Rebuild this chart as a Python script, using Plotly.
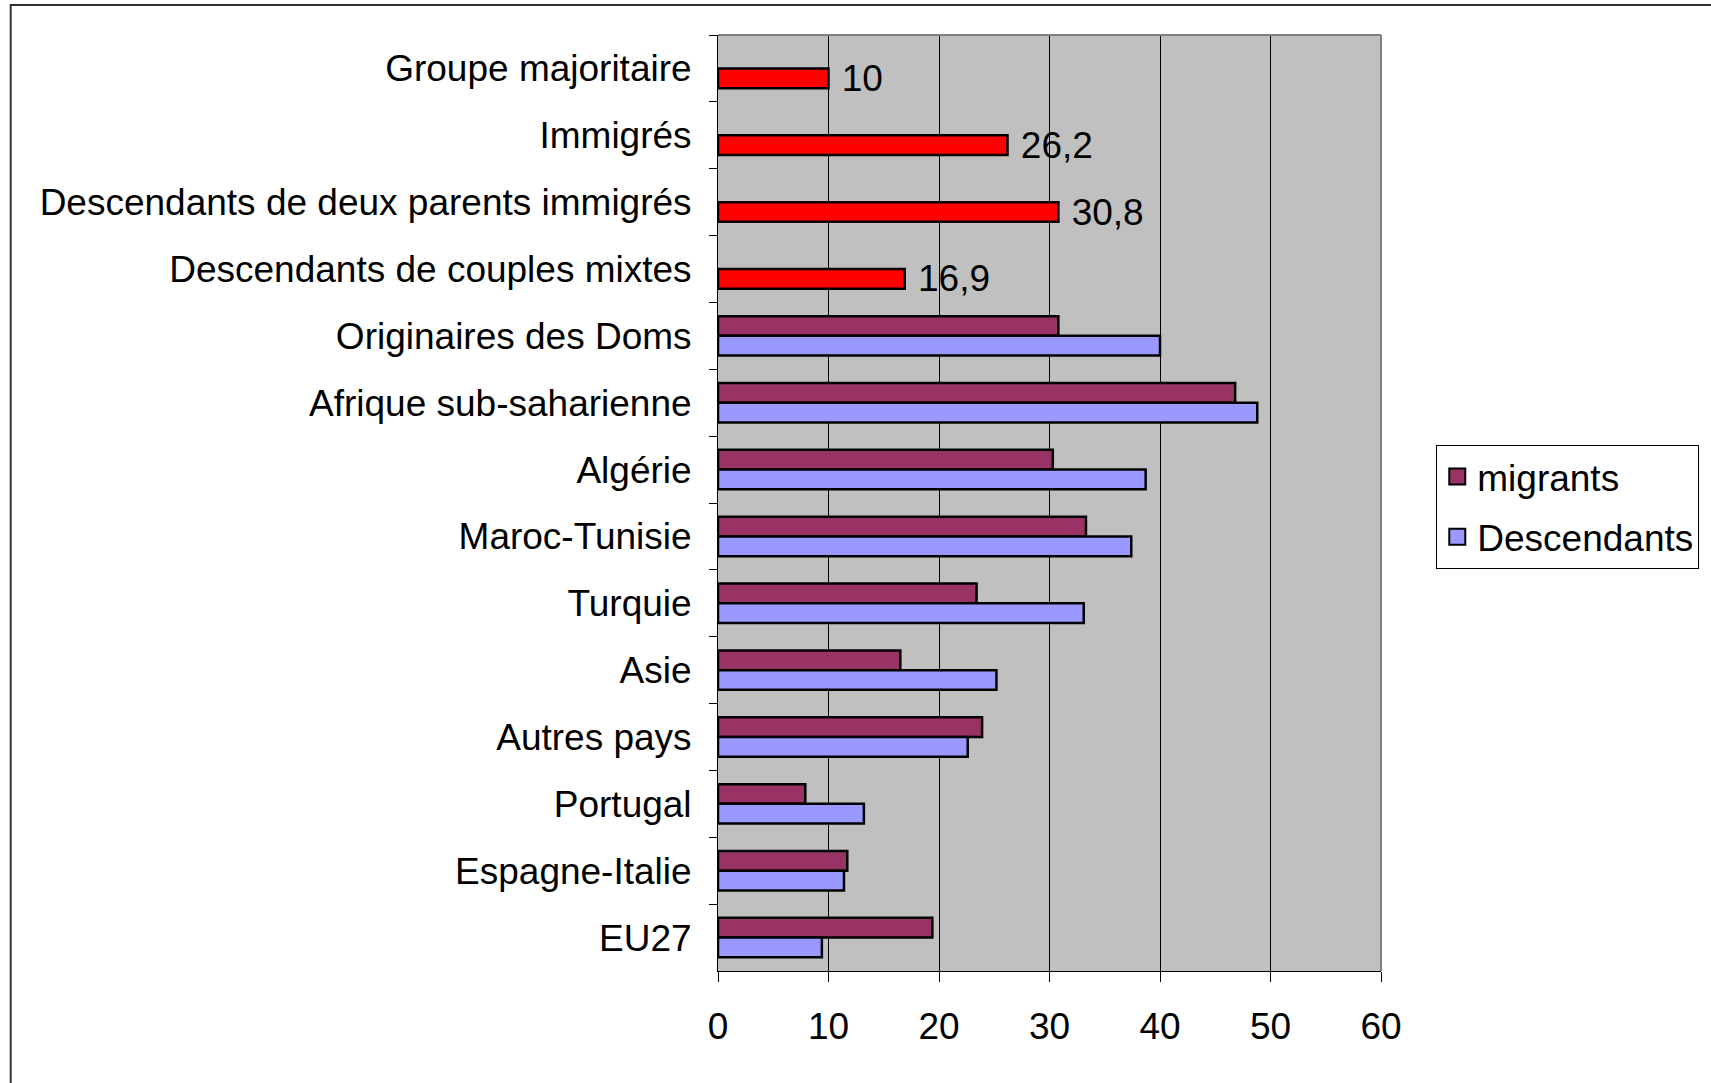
import plotly.graph_objects as go

# Categories, top to bottom
categories = [
    "Groupe majoritaire",
    "Immigrés",
    "Descendants de deux parents immigrés",
    "Descendants de couples mixtes",
    "Originaires des Doms",
    "Afrique sub-saharienne",
    "Algérie",
    "Maroc-Tunisie",
    "Turquie",
    "Asie",
    "Autres pays",
    "Portugal",
    "Espagne-Italie",
    "EU27",
]

# Aggregate groups (single red bar each)
group_categories = categories[:4]
group_values = [10, 26.2, 30.8, 16.9]

# Origin breakdown
origin_categories = categories[4:]
migrants = [30.8, 46.8, 30.3, 33.3, 23.4, 16.5, 23.9, 7.9, 11.7, 19.4]
descendants = [40.0, 48.8, 38.7, 37.4, 33.1, 25.2, 22.6, 13.2, 11.4, 9.4]

x_ticks = [0, 10, 20, 30, 40, 50, 60]

FONT = "Liberation Sans, Arial, sans-serif"
FS = 37

W, H = 1711, 1083
PX_L, PX_R, PX_T, PX_B = 718, 1382.6, 35, 971

COL_MIG = "#993366"
COL_DESC = "#9999FF"
COL_GROUP = "#FF0000"


def px_to_paper_x(px):
    return (px - PX_L) / (PX_R - PX_L)


def px_to_paper_y(py):
    return (PX_B - py) / (PX_B - PX_T)


outline = dict(color="black", width=2.5)

fig = go.Figure()
fig.add_trace(go.Bar(
    name="migrants", orientation="h", showlegend=False,
    y=origin_categories, x=migrants,
    marker=dict(color=COL_MIG, line=outline),
    offsetgroup="m",
))
fig.add_trace(go.Bar(
    name="Descendants", orientation="h", showlegend=False,
    y=origin_categories, x=descendants,
    marker=dict(color=COL_DESC, line=outline),
    offsetgroup="d",
))
fig.add_trace(go.Bar(
    name="groupes", orientation="h", showlegend=False,
    y=group_categories, x=group_values,
    marker=dict(color=COL_GROUP, line=outline),
    offsetgroup="d",
    texttemplate=" %{x}", textposition="outside", cliponaxis=False,
    constraintext="none",
    textfont=dict(family=FONT, size=FS, color="black"),
))

# Legend entries with square swatches
for name, col, grp in [("migrants", COL_MIG, "a"), ("Descendants", COL_DESC, "b")]:
    fig.add_trace(go.Scatter(
        name=name, x=[None], y=[None], mode="markers",
        marker=dict(symbol="square", size=16, color=col,
                    line=dict(color="black", width=2)),
        legendgroup=grp, showlegend=True, hoverinfo="skip",
    ))

fig.update_layout(
    width=W, height=H,
    margin=dict(l=PX_L, r=W - PX_R, t=PX_T, b=H - PX_B, pad=0),
    paper_bgcolor="white",
    plot_bgcolor="#C0C0C0",
    barmode="group",
    bargap=0.41,
    bargroupgap=0,
    separators=", ",
    font=dict(family=FONT, size=FS, color="black"),
    showlegend=True,
    legend=dict(
        x=px_to_paper_x(1438), y=px_to_paper_y(445),
        xanchor="left", yanchor="top",
        bgcolor="white", bordercolor="black", borderwidth=1,
        font=dict(family=FONT, size=FS, color="black"),
        traceorder="grouped",
        tracegroupgap=9,
        itemwidth=30,
    ),
    xaxis=dict(
        range=[0, 60], tickvals=x_ticks,
        showgrid=True, gridcolor="black", gridwidth=1,
        zeroline=False,
        showline=True, linecolor="black", linewidth=1,
        ticks="outside", ticklen=10, tickcolor="black",
        ticklabelstandoff=13,
        tickfont=dict(family=FONT, size=FS, color="black"),
    ),
    yaxis=dict(
        categoryorder="array", categoryarray=categories,
        autorange="reversed",
        showgrid=False, zeroline=False,
        showline=True, linecolor="black", linewidth=1,
        ticks="outside", ticklen=8, tickcolor="black",
        tickson="boundaries",
        ticklabelstandoff=18,
        tickfont=dict(family=FONT, size=FS, color="black"),
    ),
    shapes=[
        # grey frame on the top and right of the plotting area
        dict(type="line", xref="paper", yref="paper", x0=0, x1=1, y0=1, y1=1,
             line=dict(color="#808080", width=2), layer="above"),
        dict(type="line", xref="paper", yref="paper", x0=1, x1=1, y0=0, y1=1,
             line=dict(color="#808080", width=2), layer="above"),
        # outer chart border
        dict(type="rect", xref="paper", yref="paper",
             x0=px_to_paper_x(9), x1=px_to_paper_x(1740),
             y0=px_to_paper_y(1110), y1=px_to_paper_y(5),
             line=dict(color="#333333", width=2), layer="below"),
    ],
)

fig.write_html("out.html")
